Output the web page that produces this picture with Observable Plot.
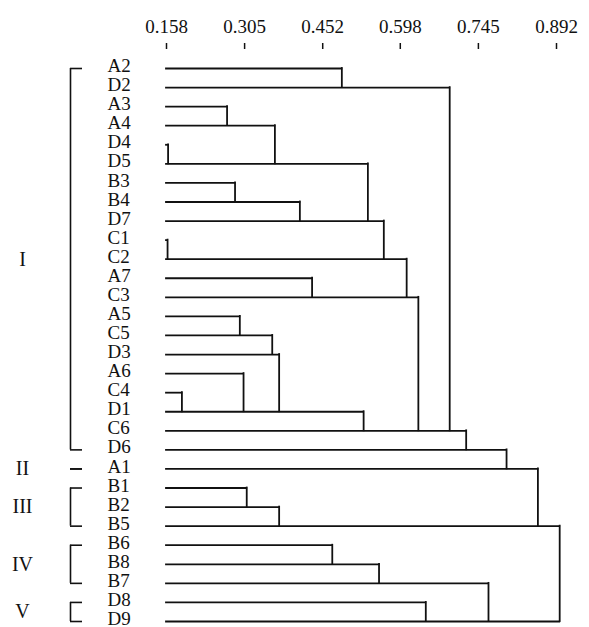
<!DOCTYPE html>
<html><head><meta charset="utf-8">
<script src="https://cdn.jsdelivr.net/npm/d3@7"></script>
<script src="https://cdn.jsdelivr.net/npm/@observablehq/plot@0.6"></script>
<style>html,body{margin:0;padding:0;background:#fff} svg{display:block}</style>
</head><body><div id="chart"></div>
<script>
// Leaves in dendrogram order (top to bottom)
const leaves = ["A2","D2","A3","A4","D4","D5","B3","B4","D7","C1","C2","A7","C3","A5","C5","D3","A6","C4","D1","C6","D6","A1","B1","B2","B5","B6","B8","B7","D8","D9"];
// Height at which each leaf's line joins the row below it
const joinHeight = [0.488,0.691,0.272,0.362,0.161,0.537,0.287,0.409,0.567,0.160,0.610,0.432,0.632,0.296,0.357,0.370,0.303,0.187,0.529,0.722,0.798,0.857,0.309,0.370,0.898,0.470,0.558,0.764,0.646,0.898];
// Row into which each leaf's line merges
const joinsInto = ["D2","C6","A4","D5","D5","D7","B4","D7","C2","C2","C3","C3","C6","C5","D3","D1","D1","D1","C6","D6","A1","B5","B2","B5","D9","B8","B7","D9","D9",null];
// Axis tick values
const tickValues = [0.158,0.305,0.452,0.598,0.745,0.892];
// Groups
const groupNames = ["I","II","III","IV","V"];
const groupFirst = ["A2","A1","B1","B6","D8"];
const groupLast = ["D6","A1","B5","B7","D9"];
const axisStart = 0.158;

const idx = new Map(leaves.map((d, i) => [d, i]));
const rows = leaves.map((leaf, i) => ({
  leaf, i, h: joinHeight[i],
  target: joinsInto[i], ti: joinsInto[i] == null ? null : idx.get(joinsInto[i])
}));
const links = rows.filter(d => d.target != null);
const groups = groupNames.map((name, k) => ({
  name, first: idx.get(groupFirst[k]), last: idx.get(groupLast[k]),
  mid: (idx.get(groupFirst[k]) + idx.get(groupLast[k])) / 2
}));
const bracketEnds = groups.flatMap(g => [{y: g.first}, {y: g.last}]);

const ink = "#111";
const chart = Plot.plot({
  width: 589, height: 627,
  marginTop: 68, marginBottom: 6, marginLeft: 166, marginRight: 33,
  x: {domain: [tickValues[0], tickValues[tickValues.length - 1]], axis: null, label: null},
  y: {domain: [0, leaves.length - 1], reverse: true, axis: null},
  style: {fontFamily: "'Liberation Serif', 'Times New Roman', serif", fontSize: "19px", color: ink, background: "white"},
  marks: [
    Plot.axisX(tickValues, {anchor: "top", label: null, tickFormat: d3.format(".3f"), tickSize: 6, tickPadding: 10, dy: -20, strokeWidth: 1.5, fontSize: 19, stroke: ink, fill: ink}),
    // leaf lines
    Plot.ruleY(rows, {y: "i", x1: () => axisStart, x2: "h", stroke: ink, strokeWidth: 1.8, strokeLinecap: "square"}),
    // vertical joins
    Plot.ruleX(links, {x: "h", y1: "i", y2: "ti", stroke: ink, strokeWidth: 1.8, strokeLinecap: "square"}),
    // leaf labels
    Plot.text(rows, {x: () => axisStart, y: "i", text: "leaf", textAnchor: "start", dx: -59, dy: -2.5, fontSize: 19, fill: ink}),
    // group brackets
    Plot.ruleX(groups, {x: () => axisStart, y1: "first", y2: "last", dx: -96, stroke: ink, strokeWidth: 1.6}),
    Plot.ruleY(bracketEnds, {y: "y", x1: () => axisStart, x2: () => axisStart, insetLeft: -6, insetRight: -6, dx: -90, stroke: ink, strokeWidth: 1.6}),
    Plot.text(groups, {x: () => axisStart, y: "mid", text: "name", dx: -144, fontSize: 20, fill: ink})
  ]
});
document.getElementById("chart").appendChild(chart);
</script>
</body></html>
